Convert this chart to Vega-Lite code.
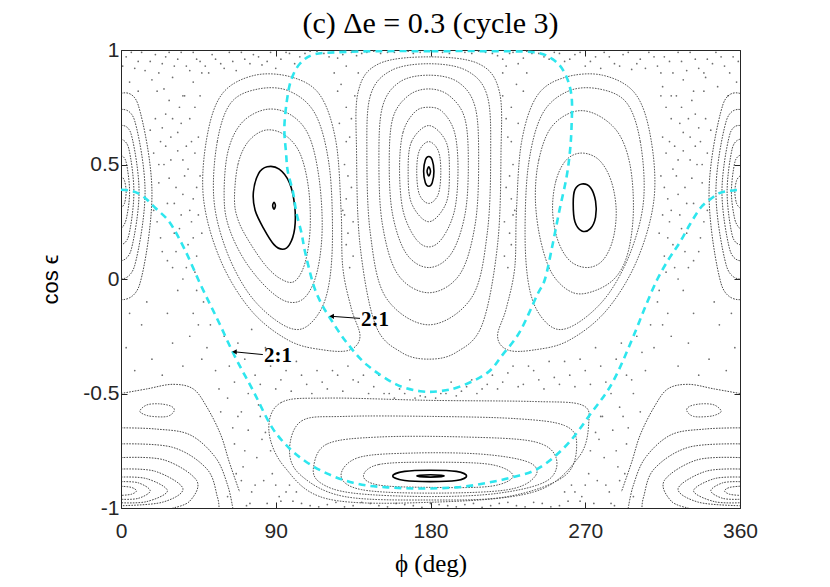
{
"$schema":"https://vega.github.io/schema/vega-lite/v6.json",
"autosize":"none",
"width":619,"height":458,
"padding":{"left":121,"top":50,"right":90,"bottom":79},
"background":"white",
"title":{"text":"(c) Δe = 0.3 (cycle 3)","font":"Liberation Serif","fontSize":30,"fontWeight":"normal","color":"black","offset":0},
"config":{"view":{"stroke":"#262626","strokeWidth":1},"axis":{"grid":false,"domainColor":"#262626","tickColor":"#262626","labelColor":"#262626","labelFont":"Liberation Sans","labelFontSize":21,"titleColor":"black","labelFlush":false}},
"datasets":{
"sea":[
{"phi":3,"ce":0.97},{"phi":8,"ce":0.92},{"phi":12,"ce":0.99},{"phi":17,"ce":0.95},{"phi":22,"ce":0.9},{"phi":26,"ce":0.97},{"phi":31,"ce":0.93},{"phi":35,"ce":0.99},{"phi":40,"ce":0.91},{"phi":44,"ce":0.96},{"phi":49,"ce":0.93},{"phi":53,"ce":0.98},{"phi":58,"ce":0.94},{"phi":63,"ce":0.99},{"phi":67,"ce":0.91},{"phi":72,"ce":0.96},{"phi":77,"ce":0.98},{"phi":82,"ce":0.935},{"phi":87,"ce":0.99},{"phi":93,"ce":0.96},{"phi":98,"ce":0.985},{"phi":104,"ce":0.97},{"phi":110,"ce":0.995},{"phi":118,"ce":0.985},{"phi":126,"ce":0.965},{"phi":131,"ce":0.93},{"phi":134,"ce":0.99},{"phi":140,"ce":0.985},{"phi":147,"ce":0.995},{"phi":155,"ce":0.99},{"phi":163,"ce":0.997},{"phi":170,"ce":0.985},{"phi":187,"ce":0.99},{"phi":196,"ce":0.997},{"phi":204,"ce":0.985},{"phi":212,"ce":0.99},{"phi":219,"ce":0.975},{"phi":224,"ce":0.93},{"phi":228,"ce":0.99},{"phi":234,"ce":0.965},{"phi":239,"ce":0.985},{"phi":246,"ce":0.97},{"phi":252,"ce":0.99},{"phi":258,"ce":0.95},{"phi":264,"ce":0.98},{"phi":270,"ce":0.93},{"phi":276,"ce":0.97},{"phi":281,"ce":0.99},{"phi":287,"ce":0.94},{"phi":292,"ce":0.98},{"phi":297,"ce":0.915},{"phi":302,"ce":0.96},{"phi":307,"ce":0.99},{"phi":312,"ce":0.93},{"phi":316,"ce":0.97},{"phi":321,"ce":0.9},{"phi":326,"ce":0.95},{"phi":331,"ce":0.99},{"phi":336,"ce":0.92},{"phi":341,"ce":0.96},{"phi":346,"ce":0.99},{"phi":351,"ce":0.93},{"phi":356,"ce":0.97},
{"phi":1,"ce":0.93},{"phi":6,"ce":0.99},{"phi":10,"ce":0.95},{"phi":14,"ce":0.91},{"phi":20,"ce":0.98},{"phi":24,"ce":0.94},{"phi":28,"ce":0.99},{"phi":33,"ce":0.96},{"phi":38,"ce":0.93},{"phi":42,"ce":0.99},{"phi":46,"ce":0.95},{"phi":51,"ce":0.9},{"phi":55,"ce":0.96},{"phi":60,"ce":0.92},{"phi":65,"ce":0.95},{"phi":70,"ce":0.99},{"phi":75,"ce":0.94},{"phi":80,"ce":0.97},{"phi":85,"ce":0.95},{"phi":90,"ce":0.92},{"phi":96,"ce":0.99},{"phi":101,"ce":0.94},{"phi":107,"ce":0.985},{"phi":114,"ce":0.995},{"phi":121,"ce":0.97},{"phi":129,"ce":0.98},{"phi":137,"ce":0.975},{"phi":143,"ce":0.99},{"phi":151,"ce":0.985},{"phi":159,"ce":0.99},{"phi":167,"ce":0.995},{"phi":174,"ce":0.99},{"phi":183,"ce":0.995},{"phi":191,"ce":0.985},{"phi":200,"ce":0.99},{"phi":208,"ce":0.995},{"phi":216,"ce":0.985},{"phi":222,"ce":0.96},{"phi":226,"ce":0.985},{"phi":231,"ce":0.94},{"phi":236,"ce":0.995},{"phi":243,"ce":0.985},{"phi":249,"ce":0.96},{"phi":255,"ce":0.985},{"phi":261,"ce":0.96},{"phi":267,"ce":0.99},{"phi":273,"ce":0.95},{"phi":279,"ce":0.92},{"phi":284,"ce":0.97},{"phi":290,"ce":0.93},{"phi":295,"ce":0.99},{"phi":300,"ce":0.94},{"phi":305,"ce":0.92},{"phi":310,"ce":0.97},{"phi":314,"ce":0.9},{"phi":319,"ce":0.95},{"phi":324,"ce":0.99},{"phi":329,"ce":0.91},{"phi":334,"ce":0.96},{"phi":339,"ce":0.9},{"phi":344,"ce":0.94},{"phi":349,"ce":0.97},{"phi":354,"ce":0.9},{"phi":359,"ce":0.95},
{"phi":5,"ce":0.86},{"phi":10,"ce":0.82},{"phi":18,"ce":0.87},{"phi":25,"ce":0.83},{"phi":30,"ce":0.88},{"phi":36,"ce":0.8},{"phi":42,"ce":0.86},{"phi":47,"ce":0.9},{"phi":315,"ce":0.84},{"phi":320,"ce":0.8},{"phi":327,"ce":0.87},{"phi":333,"ce":0.82},{"phi":340,"ce":0.88},{"phi":347,"ce":0.84},{"phi":353,"ce":0.8},{"phi":358,"ce":0.86},
{"phi":20,"ce":0.7},{"phi":23,"ce":0.6},{"phi":26,"ce":0.72},{"phi":29,"ce":0.52},{"phi":33,"ce":0.64},{"phi":37,"ce":0.45},{"phi":40,"ce":0.7},{"phi":43,"ce":0.55},{"phi":22,"ce":0.42},{"phi":27,"ce":0.33},{"phi":31,"ce":0.2},{"phi":35,"ce":0.28},{"phi":39,"ce":0.15},{"phi":42,"ce":0.35},{"phi":24,"ce":0.12},{"phi":30,"ce":0.05},{"phi":36,"ce":0.0},{"phi":44,"ce":0.1},{"phi":28,"ce":0.78},{"phi":34,"ce":0.75},{"phi":38,"ce":0.58},{"phi":41,"ce":0.25},{"phi":25,"ce":0.5},{"phi":32,"ce":0.4},{"phi":46,"ce":0.45},{"phi":21,"ce":0.25},{"phi":19,"ce":0.55},{"phi":45,"ce":0.62},
{"phi":17,"ce":0.65},{"phi":19,"ce":0.3},{"phi":21,"ce":0.82},{"phi":23,"ce":0.18},{"phi":24,"ce":0.66},{"phi":26,"ce":0.58},{"phi":27,"ce":0.08},{"phi":28,"ce":0.44},{"phi":30,"ce":0.7},{"phi":31,"ce":0.33},{"phi":32,"ce":0.12},{"phi":33,"ce":0.56},{"phi":34,"ce":0.22},{"phi":35,"ce":0.68},{"phi":36,"ce":0.37},{"phi":37,"ce":0.8},{"phi":38,"ce":0.05},{"phi":39,"ce":0.48},{"phi":40,"ce":0.3},{"phi":41,"ce":0.6},{"phi":42,"ce":0.18},{"phi":43,"ce":0.75},{"phi":44,"ce":0.4},{"phi":45,"ce":0.28},{"phi":46,"ce":0.8},{"phi":47,"ce":0.2},{"phi":22,"ce":0.5},{"phi":29,"ce":0.62},{"phi":36,"ce":0.52},{"phi":43,"ce":0.03},
{"phi":340,"ce":0.7},{"phi":337,"ce":0.6},{"phi":334,"ce":0.72},{"phi":331,"ce":0.52},{"phi":327,"ce":0.64},{"phi":323,"ce":0.45},{"phi":320,"ce":0.7},{"phi":317,"ce":0.55},{"phi":338,"ce":0.42},{"phi":333,"ce":0.33},{"phi":329,"ce":0.2},{"phi":325,"ce":0.28},{"phi":321,"ce":0.15},{"phi":318,"ce":0.35},{"phi":336,"ce":0.12},{"phi":330,"ce":0.05},{"phi":324,"ce":0.0},{"phi":316,"ce":0.1},{"phi":332,"ce":0.78},{"phi":326,"ce":0.75},{"phi":322,"ce":0.58},{"phi":319,"ce":0.25},{"phi":335,"ce":0.5},{"phi":328,"ce":0.4},{"phi":314,"ce":0.45},{"phi":339,"ce":0.25},{"phi":341,"ce":0.55},{"phi":315,"ce":0.62},
{"phi":343,"ce":0.65},{"phi":341,"ce":0.3},{"phi":339,"ce":0.82},{"phi":337,"ce":0.18},{"phi":336,"ce":0.66},{"phi":334,"ce":0.58},{"phi":333,"ce":0.08},{"phi":332,"ce":0.44},{"phi":330,"ce":0.7},{"phi":329,"ce":0.33},{"phi":328,"ce":0.12},{"phi":327,"ce":0.56},{"phi":326,"ce":0.22},{"phi":325,"ce":0.68},{"phi":324,"ce":0.37},{"phi":323,"ce":0.8},{"phi":322,"ce":0.05},{"phi":321,"ce":0.48},{"phi":320,"ce":0.3},{"phi":319,"ce":0.6},{"phi":318,"ce":0.18},{"phi":317,"ce":0.75},{"phi":316,"ce":0.4},{"phi":315,"ce":0.28},{"phi":314,"ce":0.8},{"phi":313,"ce":0.2},{"phi":338,"ce":0.5},{"phi":331,"ce":0.62},{"phi":324,"ce":0.52},{"phi":317,"ce":0.03},
{"phi":128,"ce":0.85},{"phi":131,"ce":0.75},{"phi":133,"ce":0.62},{"phi":130,"ce":0.5},{"phi":134,"ce":0.4},{"phi":129,"ce":0.3},{"phi":132,"ce":0.2},{"phi":135,"ce":0.1},{"phi":127,"ce":0.68},{"phi":136,"ce":0.8},{"phi":131,"ce":0.35},{"phi":133,"ce":0.05},
{"phi":124,"ce":0.9},{"phi":130,"ce":0.28},{"phi":131,"ce":0.6},{"phi":132,"ce":0.45},{"phi":134,"ce":0.7},{"phi":135,"ce":0.25},{"phi":138,"ce":0.9},{"phi":131,"ce":0.15},{"phi":126,"ce":0.82},
{"phi":230,"ce":0.85},{"phi":227,"ce":0.75},{"phi":225,"ce":0.62},{"phi":228,"ce":0.5},{"phi":224,"ce":0.4},{"phi":229,"ce":0.3},{"phi":226,"ce":0.2},{"phi":223,"ce":0.1},{"phi":231,"ce":0.68},{"phi":222,"ce":0.8},{"phi":227,"ce":0.35},{"phi":225,"ce":0.05},
{"phi":236,"ce":0.9},{"phi":228,"ce":0.28},{"phi":227,"ce":0.6},{"phi":226,"ce":0.45},{"phi":224,"ce":0.7},{"phi":223,"ce":0.25},{"phi":222,"ce":0.9},{"phi":227,"ce":0.15},{"phi":234,"ce":0.82},
{"phi":45,"ce":-0.2},{"phi":50,"ce":-0.3},{"phi":55,"ce":-0.4},{"phi":60,"ce":-0.25},{"phi":66,"ce":-0.45},{"phi":72,"ce":-0.35},{"phi":78,"ce":-0.42},{"phi":84,"ce":-0.3},{"phi":90,"ce":-0.48},{"phi":96,"ce":-0.4},{"phi":102,"ce":-0.36},{"phi":108,"ce":-0.46},{"phi":114,"ce":-0.4},{"phi":120,"ce":-0.48},{"phi":126,"ce":-0.42},{"phi":132,"ce":-0.38},{"phi":138,"ce":-0.45},{"phi":144,"ce":-0.5},{"phi":150,"ce":-0.42},{"phi":156,"ce":-0.5},{"phi":162,"ce":-0.48},{"phi":168,"ce":-0.44},{"phi":174,"ce":-0.51},{"phi":186,"ce":-0.5},{"phi":192,"ce":-0.45},{"phi":198,"ce":-0.49},{"phi":204,"ce":-0.44},{"phi":210,"ce":-0.48},{"phi":216,"ce":-0.42},{"phi":222,"ce":-0.45},{"phi":228,"ce":-0.38},{"phi":234,"ce":-0.46},{"phi":240,"ce":-0.4},{"phi":246,"ce":-0.48},{"phi":252,"ce":-0.43},{"phi":258,"ce":-0.36},{"phi":264,"ce":-0.47},{"phi":270,"ce":-0.4},{"phi":276,"ce":-0.3},{"phi":282,"ce":-0.45},{"phi":288,"ce":-0.35},{"phi":294,"ce":-0.42},{"phi":300,"ce":-0.25},{"phi":305,"ce":-0.4},{"phi":310,"ce":-0.3},{"phi":315,"ce":-0.2},{"phi":48,"ce":-0.1},{"phi":312,"ce":-0.1},{"phi":62,"ce":-0.52},{"phi":70,"ce":-0.58},{"phi":80,"ce":-0.55},{"phi":290,"ce":-0.56},{"phi":280,"ce":-0.6},{"phi":298,"ce":-0.5},
{"phi":42,"ce":-0.15},{"phi":47,"ce":-0.35},{"phi":52,"ce":-0.2},{"phi":57,"ce":-0.48},{"phi":63,"ce":-0.38},{"phi":68,"ce":-0.28},{"phi":74,"ce":-0.5},{"phi":76,"ce":-0.22},{"phi":81,"ce":-0.46},{"phi":87,"ce":-0.38},{"phi":93,"ce":-0.44},{"phi":99,"ce":-0.49},{"phi":105,"ce":-0.42},{"phi":111,"ce":-0.5},{"phi":117,"ce":-0.45},{"phi":123,"ce":-0.4},{"phi":129,"ce":-0.49},{"phi":135,"ce":-0.44},{"phi":141,"ce":-0.42},{"phi":147,"ce":-0.47},{"phi":153,"ce":-0.5},{"phi":159,"ce":-0.52},{"phi":165,"ce":-0.5},{"phi":171,"ce":-0.52},{"phi":177,"ce":-0.515},{"phi":183,"ce":-0.52},{"phi":189,"ce":-0.5},{"phi":195,"ce":-0.51},{"phi":201,"ce":-0.47},{"phi":207,"ce":-0.5},{"phi":213,"ce":-0.46},{"phi":219,"ce":-0.48},{"phi":225,"ce":-0.41},{"phi":231,"ce":-0.47},{"phi":237,"ce":-0.38},{"phi":243,"ce":-0.44},{"phi":249,"ce":-0.36},{"phi":255,"ce":-0.46},{"phi":261,"ce":-0.42},{"phi":267,"ce":-0.35},{"phi":273,"ce":-0.46},{"phi":279,"ce":-0.38},{"phi":285,"ce":-0.5},{"phi":291,"ce":-0.28},{"phi":297,"ce":-0.44},{"phi":303,"ce":-0.32},{"phi":308,"ce":-0.2},{"phi":313,"ce":-0.05},{"phi":318,"ce":-0.15},{"phi":44,"ce":-0.05},
{"phi":3,"ce":-0.3},{"phi":8,"ce":-0.4},{"phi":12,"ce":-0.2},{"phi":18,"ce":-0.35},{"phi":24,"ce":-0.42},{"phi":30,"ce":-0.28},{"phi":36,"ce":-0.38},{"phi":40,"ce":-0.25},{"phi":5,"ce":-0.15},{"phi":15,"ce":-0.1},{"phi":27,"ce":-0.15},{"phi":33,"ce":-0.05},
{"phi":357,"ce":-0.3},{"phi":352,"ce":-0.4},{"phi":348,"ce":-0.2},{"phi":342,"ce":-0.35},{"phi":336,"ce":-0.42},{"phi":330,"ce":-0.28},{"phi":324,"ce":-0.38},{"phi":320,"ce":-0.25},{"phi":355,"ce":-0.15},{"phi":345,"ce":-0.1},{"phi":333,"ce":-0.15},{"phi":327,"ce":-0.05},
{"phi":65,"ce":-0.65},{"phi":72,"ce":-0.75},{"phi":78,"ce":-0.9},{"phi":82,"ce":-0.7},{"phi":88,"ce":-0.85},{"phi":92,"ce":-0.95},{"phi":98,"ce":-0.9},{"phi":75,"ce":-0.98},{"phi":70,"ce":-0.88},
{"phi":58,"ce":-0.58},{"phi":62,"ce":-0.95},{"phi":66,"ce":-0.72},{"phi":68,"ce":-0.6},{"phi":71,"ce":-0.82},{"phi":74,"ce":-0.66},{"phi":76,"ce":-0.93},{"phi":79,"ce":-0.78},{"phi":81,"ce":-0.6},{"phi":83,"ce":-0.88},{"phi":85,"ce":-0.98},{"phi":87,"ce":-0.75},{"phi":90,"ce":-0.9},{"phi":93,"ce":-0.97},{"phi":96,"ce":-0.93},{"phi":100,"ce":-0.97},{"phi":102,"ce":-0.93},{"phi":84,"ce":-0.67},{"phi":73,"ce":-0.99},{"phi":67,"ce":-0.85},
{"phi":295,"ce":-0.65},{"phi":288,"ce":-0.75},{"phi":282,"ce":-0.9},{"phi":278,"ce":-0.7},{"phi":272,"ce":-0.85},{"phi":268,"ce":-0.95},{"phi":262,"ce":-0.9},{"phi":285,"ce":-0.98},{"phi":290,"ce":-0.88},
{"phi":302,"ce":-0.58},{"phi":298,"ce":-0.95},{"phi":294,"ce":-0.72},{"phi":292,"ce":-0.6},{"phi":289,"ce":-0.82},{"phi":286,"ce":-0.66},{"phi":284,"ce":-0.93},{"phi":281,"ce":-0.78},{"phi":279,"ce":-0.6},{"phi":277,"ce":-0.88},{"phi":275,"ce":-0.98},{"phi":273,"ce":-0.75},{"phi":270,"ce":-0.9},{"phi":267,"ce":-0.97},{"phi":264,"ce":-0.93},{"phi":260,"ce":-0.97},{"phi":258,"ce":-0.93},{"phi":276,"ce":-0.67},{"phi":287,"ce":-0.99},{"phi":293,"ce":-0.85},
{"phi":105,"ce":-0.98},{"phi":115,"ce":-0.995},{"phi":125,"ce":-0.975},{"phi":135,"ce":-0.99},{"phi":145,"ce":-0.98},{"phi":155,"ce":-0.995},{"phi":165,"ce":-0.985},{"phi":175,"ce":-0.997},{"phi":185,"ce":-0.985},{"phi":195,"ce":-0.995},{"phi":205,"ce":-0.98},{"phi":215,"ce":-0.99},{"phi":225,"ce":-0.975},{"phi":235,"ce":-0.995},{"phi":245,"ce":-0.98},{"phi":255,"ce":-0.99},
{"phi":110,"ce":-0.99},{"phi":120,"ce":-0.985},{"phi":130,"ce":-0.995},{"phi":140,"ce":-0.975},{"phi":150,"ce":-0.99},{"phi":160,"ce":-0.98},{"phi":170,"ce":-0.99},{"phi":180,"ce":-0.98},{"phi":190,"ce":-0.99},{"phi":200,"ce":-0.985},{"phi":210,"ce":-0.997},{"phi":220,"ce":-0.98},{"phi":230,"ce":-0.99},{"phi":240,"ce":-0.975},{"phi":250,"ce":-0.995}
],
"loops":[
{"id":"LI2","k":1,"phi":66,"ce":0.35},{"id":"LI2","k":2,"phi":68,"ce":0.5},{"id":"LI2","k":3,"phi":74,"ce":0.6},{"id":"LI2","k":4,"phi":84,"ce":0.65},{"id":"LI2","k":5,"phi":95,"ce":0.63},{"id":"LI2","k":6,"phi":104,"ce":0.55},{"id":"LI2","k":7,"phi":109,"ce":0.4},{"id":"LI2","k":8,"phi":110,"ce":0.22},{"id":"LI2","k":9,"phi":107,"ce":0.07},{"id":"LI2","k":10,"phi":101,"ce":-0.01},{"id":"LI2","k":11,"phi":93,"ce":0.0},{"id":"LI2","k":12,"phi":84,"ce":0.06},{"id":"LI2","k":13,"phi":74,"ce":0.17},{"id":"LI2","k":14,"phi":68,"ce":0.26},
{"id":"LI3","k":1,"phi":60,"ce":0.35},{"id":"LI3","k":2,"phi":62,"ce":0.55},{"id":"LI3","k":3,"phi":70,"ce":0.68},{"id":"LI3","k":4,"phi":84,"ce":0.74},{"id":"LI3","k":5,"phi":98,"ce":0.72},{"id":"LI3","k":6,"phi":109,"ce":0.63},{"id":"LI3","k":7,"phi":115,"ce":0.45},{"id":"LI3","k":8,"phi":117,"ce":0.22},{"id":"LI3","k":9,"phi":114,"ce":0.03},{"id":"LI3","k":10,"phi":107,"ce":-0.08},{"id":"LI3","k":11,"phi":97,"ce":-0.1},{"id":"LI3","k":12,"phi":85,"ce":-0.04},{"id":"LI3","k":13,"phi":72,"ce":0.08},{"id":"LI3","k":14,"phi":63,"ce":0.22},
{"id":"LI4","k":1,"phi":54,"ce":0.35},{"id":"LI4","k":2,"phi":56,"ce":0.6},{"id":"LI4","k":3,"phi":64,"ce":0.77},{"id":"LI4","k":4,"phi":80,"ce":0.83},{"id":"LI4","k":5,"phi":98,"ce":0.82},{"id":"LI4","k":6,"phi":113,"ce":0.72},{"id":"LI4","k":7,"phi":121,"ce":0.5},{"id":"LI4","k":8,"phi":123,"ce":0.2},{"id":"LI4","k":9,"phi":121,"ce":-0.02},{"id":"LI4","k":10,"phi":115,"ce":-0.15},{"id":"LI4","k":11,"phi":104,"ce":-0.22},{"id":"LI4","k":12,"phi":90,"ce":-0.18},{"id":"LI4","k":13,"phi":74,"ce":-0.06},{"id":"LI4","k":14,"phi":61,"ce":0.13},
{"id":"LI5","k":1,"phi":48,"ce":0.35},{"id":"LI5","k":2,"phi":50,"ce":0.62},{"id":"LI5","k":3,"phi":59,"ce":0.81},{"id":"LI5","k":4,"phi":78,"ce":0.89},{"id":"LI5","k":5,"phi":100,"ce":0.88},{"id":"LI5","k":6,"phi":116,"ce":0.8},{"id":"LI5","k":7,"phi":125,"ce":0.6},{"id":"LI5","k":8,"phi":128,"ce":0.3},{"id":"LI5","k":9,"phi":129,"ce":0.05},{"id":"LI5","k":10,"phi":134,"ce":-0.13},{"id":"LI5","k":11,"phi":139,"ce":-0.25},{"id":"LI5","k":12,"phi":133,"ce":-0.31},{"id":"LI5","k":13,"phi":118,"ce":-0.31},{"id":"LI5","k":14,"phi":98,"ce":-0.27},{"id":"LI5","k":15,"phi":76,"ce":-0.14},{"id":"LI5","k":16,"phi":58,"ce":0.08},
{"id":"RI2","k":1,"phi":251,"ce":0.3},{"id":"RI2","k":2,"phi":253,"ce":0.43},{"id":"RI2","k":3,"phi":259,"ce":0.52},{"id":"RI2","k":4,"phi":268,"ce":0.55},{"id":"RI2","k":5,"phi":278,"ce":0.52},{"id":"RI2","k":6,"phi":285,"ce":0.43},{"id":"RI2","k":7,"phi":288,"ce":0.3},{"id":"RI2","k":8,"phi":286,"ce":0.17},{"id":"RI2","k":9,"phi":280,"ce":0.08},{"id":"RI2","k":10,"phi":271,"ce":0.05},{"id":"RI2","k":11,"phi":261,"ce":0.08},{"id":"RI2","k":12,"phi":254,"ce":0.17},
{"id":"RI3","k":1,"phi":241,"ce":0.35},{"id":"RI3","k":2,"phi":243,"ce":0.52},{"id":"RI3","k":3,"phi":250,"ce":0.66},{"id":"RI3","k":4,"phi":263,"ce":0.73},{"id":"RI3","k":5,"phi":276,"ce":0.72},{"id":"RI3","k":6,"phi":289,"ce":0.64},{"id":"RI3","k":7,"phi":296,"ce":0.5},{"id":"RI3","k":8,"phi":298,"ce":0.3},{"id":"RI3","k":9,"phi":295,"ce":0.12},{"id":"RI3","k":10,"phi":288,"ce":0.01},{"id":"RI3","k":11,"phi":276,"ce":-0.05},{"id":"RI3","k":12,"phi":263,"ce":-0.06},{"id":"RI3","k":13,"phi":251,"ce":0.02},{"id":"RI3","k":14,"phi":244,"ce":0.17},
{"id":"RI4","k":1,"phi":304,"ce":0.35},{"id":"RI4","k":2,"phi":302,"ce":0.6},{"id":"RI4","k":3,"phi":294,"ce":0.77},{"id":"RI4","k":4,"phi":278,"ce":0.83},{"id":"RI4","k":5,"phi":260,"ce":0.82},{"id":"RI4","k":6,"phi":245,"ce":0.72},{"id":"RI4","k":7,"phi":237,"ce":0.5},{"id":"RI4","k":8,"phi":235,"ce":0.2},{"id":"RI4","k":9,"phi":237,"ce":-0.02},{"id":"RI4","k":10,"phi":243,"ce":-0.15},{"id":"RI4","k":11,"phi":254,"ce":-0.22},{"id":"RI4","k":12,"phi":268,"ce":-0.18},{"id":"RI4","k":13,"phi":284,"ce":-0.06},{"id":"RI4","k":14,"phi":297,"ce":0.13},
{"id":"RI5","k":1,"phi":310,"ce":0.35},{"id":"RI5","k":2,"phi":308,"ce":0.62},{"id":"RI5","k":3,"phi":299,"ce":0.81},{"id":"RI5","k":4,"phi":280,"ce":0.89},{"id":"RI5","k":5,"phi":258,"ce":0.88},{"id":"RI5","k":6,"phi":242,"ce":0.8},{"id":"RI5","k":7,"phi":233,"ce":0.6},{"id":"RI5","k":8,"phi":230,"ce":0.3},{"id":"RI5","k":9,"phi":229,"ce":0.05},{"id":"RI5","k":10,"phi":224,"ce":-0.13},{"id":"RI5","k":11,"phi":219,"ce":-0.25},{"id":"RI5","k":12,"phi":225,"ce":-0.31},{"id":"RI5","k":13,"phi":240,"ce":-0.31},{"id":"RI5","k":14,"phi":260,"ce":-0.27},{"id":"RI5","k":15,"phi":282,"ce":-0.14},{"id":"RI5","k":16,"phi":300,"ce":0.08},
{"id":"CI2","k":1,"phi":172,"ce":0.47},{"id":"CI2","k":2,"phi":173.5,"ce":0.56},{"id":"CI2","k":3,"phi":179,"ce":0.6},{"id":"CI2","k":4,"phi":184.5,"ce":0.56},{"id":"CI2","k":5,"phi":186,"ce":0.47},{"id":"CI2","k":6,"phi":184.5,"ce":0.37},{"id":"CI2","k":7,"phi":179,"ce":0.33},{"id":"CI2","k":8,"phi":173.5,"ce":0.37},
{"id":"CI3","k":1,"phi":167,"ce":0.47},{"id":"CI3","k":2,"phi":169,"ce":0.6},{"id":"CI3","k":3,"phi":179,"ce":0.67},{"id":"CI3","k":4,"phi":189,"ce":0.6},{"id":"CI3","k":5,"phi":191,"ce":0.47},{"id":"CI3","k":6,"phi":189,"ce":0.33},{"id":"CI3","k":7,"phi":179,"ce":0.25},{"id":"CI3","k":8,"phi":169,"ce":0.33},
{"id":"CI4","k":1,"phi":162,"ce":0.48},{"id":"CI4","k":2,"phi":164,"ce":0.64},{"id":"CI4","k":3,"phi":171,"ce":0.73},{"id":"CI4","k":4,"phi":179,"ce":0.75},{"id":"CI4","k":5,"phi":187,"ce":0.73},{"id":"CI4","k":6,"phi":194,"ce":0.64},{"id":"CI4","k":7,"phi":196,"ce":0.48},{"id":"CI4","k":8,"phi":194,"ce":0.3},{"id":"CI4","k":9,"phi":187,"ce":0.18},{"id":"CI4","k":10,"phi":179,"ce":0.14},{"id":"CI4","k":11,"phi":171,"ce":0.18},{"id":"CI4","k":12,"phi":164,"ce":0.3},
{"id":"CI5","k":1,"phi":156,"ce":0.5},{"id":"CI5","k":2,"phi":158,"ce":0.7},{"id":"CI5","k":3,"phi":167,"ce":0.8},{"id":"CI5","k":4,"phi":179,"ce":0.83},{"id":"CI5","k":5,"phi":191,"ce":0.8},{"id":"CI5","k":6,"phi":200,"ce":0.7},{"id":"CI5","k":7,"phi":202,"ce":0.5},{"id":"CI5","k":8,"phi":200,"ce":0.28},{"id":"CI5","k":9,"phi":192,"ce":0.11},{"id":"CI5","k":10,"phi":179,"ce":0.05},{"id":"CI5","k":11,"phi":166,"ce":0.11},{"id":"CI5","k":12,"phi":158,"ce":0.28},
{"id":"CI6","k":1,"phi":150,"ce":0.52},{"id":"CI6","k":2,"phi":152,"ce":0.75},{"id":"CI6","k":3,"phi":162,"ce":0.86},{"id":"CI6","k":4,"phi":179,"ce":0.89},{"id":"CI6","k":5,"phi":196,"ce":0.86},{"id":"CI6","k":6,"phi":206,"ce":0.75},{"id":"CI6","k":7,"phi":208,"ce":0.52},{"id":"CI6","k":8,"phi":206,"ce":0.24},{"id":"CI6","k":9,"phi":197,"ce":0.02},{"id":"CI6","k":10,"phi":179,"ce":-0.06},{"id":"CI6","k":11,"phi":161,"ce":0.02},{"id":"CI6","k":12,"phi":152,"ce":0.24},
{"id":"CI7","k":1,"phi":143,"ce":0.55},{"id":"CI7","k":2,"phi":145,"ce":0.8},{"id":"CI7","k":3,"phi":157,"ce":0.91},{"id":"CI7","k":4,"phi":179,"ce":0.94},{"id":"CI7","k":5,"phi":201,"ce":0.91},{"id":"CI7","k":6,"phi":213,"ce":0.8},{"id":"CI7","k":7,"phi":215,"ce":0.55},{"id":"CI7","k":8,"phi":213,"ce":0.2},{"id":"CI7","k":9,"phi":204,"ce":-0.08},{"id":"CI7","k":10,"phi":179,"ce":-0.2},{"id":"CI7","k":11,"phi":154,"ce":-0.08},{"id":"CI7","k":12,"phi":145,"ce":0.2},
{"id":"CI8","k":1,"phi":137,"ce":0.55},{"id":"CI8","k":2,"phi":138,"ce":0.82},{"id":"CI8","k":3,"phi":150,"ce":0.94},{"id":"CI8","k":4,"phi":179,"ce":0.97},{"id":"CI8","k":5,"phi":208,"ce":0.94},{"id":"CI8","k":6,"phi":220,"ce":0.82},{"id":"CI8","k":7,"phi":221,"ce":0.55},{"id":"CI8","k":8,"phi":219,"ce":0.15},{"id":"CI8","k":9,"phi":210,"ce":-0.2},{"id":"CI8","k":10,"phi":195,"ce":-0.32},{"id":"CI8","k":11,"phi":179,"ce":-0.35},{"id":"CI8","k":12,"phi":163,"ce":-0.32},{"id":"CI8","k":13,"phi":148,"ce":-0.2},{"id":"CI8","k":14,"phi":139,"ce":0.15},
{"id":"B2","k":1,"phi":141,"ce":-0.86},{"id":"B2","k":2,"phi":150,"ce":-0.81},{"id":"B2","k":3,"phi":180,"ce":-0.8},{"id":"B2","k":4,"phi":215,"ce":-0.81},{"id":"B2","k":5,"phi":228,"ce":-0.86},{"id":"B2","k":6,"phi":215,"ce":-0.905},{"id":"B2","k":7,"phi":180,"ce":-0.91},{"id":"B2","k":8,"phi":150,"ce":-0.9},
{"id":"B3","k":1,"phi":128,"ce":-0.86},{"id":"B3","k":2,"phi":138,"ce":-0.78},{"id":"B3","k":3,"phi":170,"ce":-0.76},{"id":"B3","k":4,"phi":210,"ce":-0.765},{"id":"B3","k":5,"phi":237,"ce":-0.8},{"id":"B3","k":6,"phi":241,"ce":-0.86},{"id":"B3","k":7,"phi":225,"ce":-0.92},{"id":"B3","k":8,"phi":180,"ce":-0.935},{"id":"B3","k":9,"phi":140,"ce":-0.92},
{"id":"B4","k":1,"phi":112,"ce":-0.82},{"id":"B4","k":2,"phi":120,"ce":-0.72},{"id":"B4","k":3,"phi":150,"ce":-0.69},{"id":"B4","k":4,"phi":200,"ce":-0.69},{"id":"B4","k":5,"phi":240,"ce":-0.71},{"id":"B4","k":6,"phi":253,"ce":-0.78},{"id":"B4","k":7,"phi":248,"ce":-0.88},{"id":"B4","k":8,"phi":220,"ce":-0.935},{"id":"B4","k":9,"phi":180,"ce":-0.95},{"id":"B4","k":10,"phi":135,"ce":-0.935},{"id":"B4","k":11,"phi":116,"ce":-0.89},
{"id":"B5","k":1,"phi":98,"ce":-0.75},{"id":"B5","k":2,"phi":105,"ce":-0.62},{"id":"B5","k":3,"phi":130,"ce":-0.6},{"id":"B5","k":4,"phi":180,"ce":-0.6},{"id":"B5","k":5,"phi":230,"ce":-0.61},{"id":"B5","k":6,"phi":258,"ce":-0.64},{"id":"B5","k":7,"phi":265,"ce":-0.72},{"id":"B5","k":8,"phi":258,"ce":-0.86},{"id":"B5","k":9,"phi":225,"ce":-0.95},{"id":"B5","k":10,"phi":180,"ce":-0.965},{"id":"B5","k":11,"phi":130,"ce":-0.95},{"id":"B5","k":12,"phi":105,"ce":-0.86},
{"id":"B6","k":1,"phi":86,"ce":-0.66},{"id":"B6","k":2,"phi":93,"ce":-0.54},{"id":"B6","k":3,"phi":120,"ce":-0.52},{"id":"B6","k":4,"phi":180,"ce":-0.53},{"id":"B6","k":5,"phi":240,"ce":-0.535},{"id":"B6","k":6,"phi":268,"ce":-0.55},{"id":"B6","k":7,"phi":272,"ce":-0.63},{"id":"B6","k":8,"phi":266,"ce":-0.78},{"id":"B6","k":9,"phi":240,"ce":-0.93},{"id":"B6","k":10,"phi":180,"ce":-0.975},{"id":"B6","k":11,"phi":120,"ce":-0.96},{"id":"B6","k":12,"phi":95,"ce":-0.82},
{"id":"SL","k":1,"phi":11,"ce":-0.575},{"id":"SL","k":2,"phi":15,"ce":-0.55},{"id":"SL","k":3,"phi":22,"ce":-0.545},{"id":"SL","k":4,"phi":29,"ce":-0.555},{"id":"SL","k":5,"phi":31,"ce":-0.575},{"id":"SL","k":6,"phi":27,"ce":-0.6},{"id":"SL","k":7,"phi":18,"ce":-0.6},{"id":"SL","k":8,"phi":13,"ce":-0.59},
{"id":"SR","k":1,"phi":349,"ce":-0.575},{"id":"SR","k":2,"phi":345,"ce":-0.55},{"id":"SR","k":3,"phi":338,"ce":-0.545},{"id":"SR","k":4,"phi":331,"ce":-0.555},{"id":"SR","k":5,"phi":329,"ce":-0.575},{"id":"SR","k":6,"phi":333,"ce":-0.6},{"id":"SR","k":7,"phi":342,"ce":-0.6},{"id":"SR","k":8,"phi":347,"ce":-0.59}
],
"thick":[
{"id":"LI1","k":1,"phi":77,"ce":0.38},{"id":"LI1","k":2,"phi":80,"ce":0.46},{"id":"LI1","k":3,"phi":85,"ce":0.49},{"id":"LI1","k":4,"phi":92,"ce":0.48},{"id":"LI1","k":5,"phi":98,"ce":0.42},{"id":"LI1","k":6,"phi":101,"ce":0.32},{"id":"LI1","k":7,"phi":101,"ce":0.22},{"id":"LI1","k":8,"phi":98,"ce":0.15},{"id":"LI1","k":9,"phi":94,"ce":0.13},{"id":"LI1","k":10,"phi":89,"ce":0.15},{"id":"LI1","k":11,"phi":83,"ce":0.22},{"id":"LI1","k":12,"phi":78,"ce":0.3},
{"id":"LI0","k":1,"phi":88.2,"ce":0.32},{"id":"LI0","k":2,"phi":89,"ce":0.335},{"id":"LI0","k":3,"phi":89.8,"ce":0.32},{"id":"LI0","k":4,"phi":89,"ce":0.305},
{"id":"RI1","k":1,"phi":263,"ce":0.33},{"id":"RI1","k":2,"phi":264,"ce":0.39},{"id":"RI1","k":3,"phi":268,"ce":0.415},{"id":"RI1","k":4,"phi":273,"ce":0.4},{"id":"RI1","k":5,"phi":276,"ce":0.34},{"id":"RI1","k":6,"phi":276,"ce":0.27},{"id":"RI1","k":7,"phi":273,"ce":0.22},{"id":"RI1","k":8,"phi":268,"ce":0.21},{"id":"RI1","k":9,"phi":264,"ce":0.25},
{"id":"CI1","k":1,"phi":176,"ce":0.47},{"id":"CI1","k":2,"phi":177,"ce":0.52},{"id":"CI1","k":3,"phi":179,"ce":0.535},{"id":"CI1","k":4,"phi":181,"ce":0.52},{"id":"CI1","k":5,"phi":182,"ce":0.47},{"id":"CI1","k":6,"phi":181,"ce":0.42},{"id":"CI1","k":7,"phi":179,"ce":0.405},{"id":"CI1","k":8,"phi":177,"ce":0.42},
{"id":"CI0","k":1,"phi":178,"ce":0.47},{"id":"CI0","k":2,"phi":179,"ce":0.49},{"id":"CI0","k":3,"phi":180,"ce":0.47},{"id":"CI0","k":4,"phi":179,"ce":0.45},
{"id":"B1","k":1,"phi":158,"ce":-0.86},{"id":"B1","k":2,"phi":165,"ce":-0.84},{"id":"B1","k":3,"phi":180,"ce":-0.835},{"id":"B1","k":4,"phi":195,"ce":-0.84},{"id":"B1","k":5,"phi":201,"ce":-0.86},{"id":"B1","k":6,"phi":195,"ce":-0.88},{"id":"B1","k":7,"phi":180,"ce":-0.885},{"id":"B1","k":8,"phi":165,"ce":-0.88},
{"id":"B0","k":1,"phi":172,"ce":-0.86},{"id":"B0","k":2,"phi":180,"ce":-0.855},{"id":"B0","k":3,"phi":188,"ce":-0.86},{"id":"B0","k":4,"phi":180,"ce":-0.865}
],
"arcs":[
{"id":"UL1","k":1,"phi":0,"ce":0.45},{"id":"UL1","k":2,"phi":2,"ce":0.43},{"id":"UL1","k":3,"phi":3,"ce":0.38},{"id":"UL1","k":4,"phi":2,"ce":0.33},{"id":"UL1","k":5,"phi":0,"ce":0.31},
{"id":"UL2","k":1,"phi":0,"ce":0.54},{"id":"UL2","k":2,"phi":3,"ce":0.51},{"id":"UL2","k":3,"phi":5,"ce":0.38},{"id":"UL2","k":4,"phi":3,"ce":0.26},{"id":"UL2","k":5,"phi":0,"ce":0.22},
{"id":"UL3","k":1,"phi":0,"ce":0.61},{"id":"UL3","k":2,"phi":4.5,"ce":0.57},{"id":"UL3","k":3,"phi":7.5,"ce":0.38},{"id":"UL3","k":4,"phi":4.5,"ce":0.19},{"id":"UL3","k":5,"phi":0,"ce":0.15},
{"id":"UL4","k":1,"phi":0,"ce":0.67},{"id":"UL4","k":2,"phi":6,"ce":0.63},{"id":"UL4","k":3,"phi":10.5,"ce":0.38},{"id":"UL4","k":4,"phi":6,"ce":0.13},{"id":"UL4","k":5,"phi":0,"ce":0.08},
{"id":"UL5","k":1,"phi":0,"ce":0.74},{"id":"UL5","k":2,"phi":8,"ce":0.69},{"id":"UL5","k":3,"phi":14,"ce":0.38},{"id":"UL5","k":4,"phi":8,"ce":0.06},{"id":"UL5","k":5,"phi":0,"ce":0.0},
{"id":"UL6","k":1,"phi":0,"ce":0.81},{"id":"UL6","k":2,"phi":10,"ce":0.76},{"id":"UL6","k":3,"phi":18,"ce":0.38},{"id":"UL6","k":4,"phi":11,"ce":-0.02},{"id":"UL6","k":5,"phi":0,"ce":-0.09},
{"id":"UR1","k":1,"phi":360,"ce":0.45},{"id":"UR1","k":2,"phi":358,"ce":0.43},{"id":"UR1","k":3,"phi":357,"ce":0.38},{"id":"UR1","k":4,"phi":358,"ce":0.33},{"id":"UR1","k":5,"phi":360,"ce":0.31},
{"id":"UR2","k":1,"phi":360,"ce":0.54},{"id":"UR2","k":2,"phi":357,"ce":0.51},{"id":"UR2","k":3,"phi":355,"ce":0.38},{"id":"UR2","k":4,"phi":357,"ce":0.26},{"id":"UR2","k":5,"phi":360,"ce":0.22},
{"id":"UR3","k":1,"phi":360,"ce":0.61},{"id":"UR3","k":2,"phi":355.5,"ce":0.57},{"id":"UR3","k":3,"phi":352.5,"ce":0.38},{"id":"UR3","k":4,"phi":355.5,"ce":0.19},{"id":"UR3","k":5,"phi":360,"ce":0.15},
{"id":"UR4","k":1,"phi":360,"ce":0.67},{"id":"UR4","k":2,"phi":354,"ce":0.63},{"id":"UR4","k":3,"phi":349.5,"ce":0.38},{"id":"UR4","k":4,"phi":354,"ce":0.13},{"id":"UR4","k":5,"phi":360,"ce":0.08},
{"id":"UR5","k":1,"phi":360,"ce":0.74},{"id":"UR5","k":2,"phi":352,"ce":0.69},{"id":"UR5","k":3,"phi":346,"ce":0.38},{"id":"UR5","k":4,"phi":352,"ce":0.06},{"id":"UR5","k":5,"phi":360,"ce":0.0},
{"id":"UR6","k":1,"phi":360,"ce":0.81},{"id":"UR6","k":2,"phi":350,"ce":0.76},{"id":"UR6","k":3,"phi":342,"ce":0.38},{"id":"UR6","k":4,"phi":349,"ce":-0.02},{"id":"UR6","k":5,"phi":360,"ce":-0.09},
{"id":"BL1","k":1,"phi":0,"ce":-0.905},{"id":"BL1","k":2,"phi":6,"ce":-0.91},{"id":"BL1","k":3,"phi":9,"ce":-0.925},{"id":"BL1","k":4,"phi":6,"ce":-0.94},{"id":"BL1","k":5,"phi":0,"ce":-0.945},
{"id":"BL2","k":1,"phi":0,"ce":-0.885},{"id":"BL2","k":2,"phi":10,"ce":-0.89},{"id":"BL2","k":3,"phi":17,"ce":-0.925},{"id":"BL2","k":4,"phi":10,"ce":-0.958},{"id":"BL2","k":5,"phi":0,"ce":-0.962},
{"id":"BL3","k":1,"phi":0,"ce":-0.865},{"id":"BL3","k":2,"phi":15,"ce":-0.872},{"id":"BL3","k":3,"phi":27,"ce":-0.925},{"id":"BL3","k":4,"phi":15,"ce":-0.972},{"id":"BL3","k":5,"phi":0,"ce":-0.977},
{"id":"BL4","k":1,"phi":0,"ce":-0.83},{"id":"BL4","k":2,"phi":20,"ce":-0.84},{"id":"BL4","k":3,"phi":36,"ce":-0.915},{"id":"BL4","k":4,"phi":24,"ce":-0.975},{"id":"BL4","k":5,"phi":0,"ce":-0.99},
{"id":"BL5","k":1,"phi":0,"ce":-0.78},{"id":"BL5","k":2,"phi":25,"ce":-0.79},{"id":"BL5","k":3,"phi":44,"ce":-0.88},{"id":"BL5","k":4,"phi":40,"ce":-0.97},{"id":"BL5","k":5,"phi":30,"ce":-1.0},
{"id":"BL6","k":1,"phi":0,"ce":-0.72},{"id":"BL6","k":2,"phi":30,"ce":-0.735},{"id":"BL6","k":3,"phi":50,"ce":-0.83},{"id":"BL6","k":4,"phi":56,"ce":-0.95},{"id":"BL6","k":5,"phi":57,"ce":-1.0},
{"id":"BL7","k":1,"phi":0,"ce":-0.65},{"id":"BL7","k":2,"phi":20,"ce":-0.655},{"id":"BL7","k":3,"phi":40,"ce":-0.68},{"id":"BL7","k":4,"phi":55,"ce":-0.78},{"id":"BL7","k":5,"phi":62,"ce":-0.9},{"id":"BL7","k":6,"phi":65,"ce":-1.0},
{"id":"BW1","k":1,"phi":0,"ce":-0.5},{"id":"BW1","k":2,"phi":15,"ce":-0.48},{"id":"BW1","k":3,"phi":30,"ce":-0.46},{"id":"BW1","k":4,"phi":42,"ce":-0.48},{"id":"BW1","k":5,"phi":50,"ce":-0.56},{"id":"BW1","k":6,"phi":58,"ce":-0.68},{"id":"BW1","k":7,"phi":63,"ce":-0.8},{"id":"BW1","k":8,"phi":69,"ce":-0.93},
{"id":"BR1","k":1,"phi":360,"ce":-0.905},{"id":"BR1","k":2,"phi":354,"ce":-0.91},{"id":"BR1","k":3,"phi":351,"ce":-0.925},{"id":"BR1","k":4,"phi":354,"ce":-0.94},{"id":"BR1","k":5,"phi":360,"ce":-0.945},
{"id":"BR2","k":1,"phi":360,"ce":-0.885},{"id":"BR2","k":2,"phi":350,"ce":-0.89},{"id":"BR2","k":3,"phi":343,"ce":-0.925},{"id":"BR2","k":4,"phi":350,"ce":-0.958},{"id":"BR2","k":5,"phi":360,"ce":-0.962},
{"id":"BR3","k":1,"phi":360,"ce":-0.865},{"id":"BR3","k":2,"phi":345,"ce":-0.872},{"id":"BR3","k":3,"phi":333,"ce":-0.925},{"id":"BR3","k":4,"phi":345,"ce":-0.972},{"id":"BR3","k":5,"phi":360,"ce":-0.977},
{"id":"BR4","k":1,"phi":360,"ce":-0.83},{"id":"BR4","k":2,"phi":340,"ce":-0.84},{"id":"BR4","k":3,"phi":324,"ce":-0.915},{"id":"BR4","k":4,"phi":336,"ce":-0.975},{"id":"BR4","k":5,"phi":360,"ce":-0.99},
{"id":"BR5","k":1,"phi":360,"ce":-0.78},{"id":"BR5","k":2,"phi":335,"ce":-0.79},{"id":"BR5","k":3,"phi":316,"ce":-0.88},{"id":"BR5","k":4,"phi":320,"ce":-0.97},{"id":"BR5","k":5,"phi":330,"ce":-1.0},
{"id":"BR6","k":1,"phi":360,"ce":-0.72},{"id":"BR6","k":2,"phi":330,"ce":-0.735},{"id":"BR6","k":3,"phi":310,"ce":-0.83},{"id":"BR6","k":4,"phi":304,"ce":-0.95},{"id":"BR6","k":5,"phi":303,"ce":-1.0},
{"id":"BR7","k":1,"phi":360,"ce":-0.65},{"id":"BR7","k":2,"phi":340,"ce":-0.655},{"id":"BR7","k":3,"phi":320,"ce":-0.68},{"id":"BR7","k":4,"phi":305,"ce":-0.78},{"id":"BR7","k":5,"phi":298,"ce":-0.9},{"id":"BR7","k":6,"phi":295,"ce":-1.0},
{"id":"BW2","k":1,"phi":360,"ce":-0.5},{"id":"BW2","k":2,"phi":345,"ce":-0.48},{"id":"BW2","k":3,"phi":330,"ce":-0.46},{"id":"BW2","k":4,"phi":318,"ce":-0.48},{"id":"BW2","k":5,"phi":310,"ce":-0.56},{"id":"BW2","k":6,"phi":302,"ce":-0.68},{"id":"BW2","k":7,"phi":297,"ce":-0.8},{"id":"BW2","k":8,"phi":291,"ce":-0.93}
],
"sepA":[
{"k":1,"phi":0,"ce":0.39},{"k":2,"phi":6,"ce":0.385},{"k":3,"phi":13,"ce":0.36},{"k":4,"phi":20,"ce":0.31},{"k":5,"phi":28,"ce":0.25},{"k":6,"phi":37,"ce":0.13},{"k":7,"phi":46,"ce":-0.02},{"k":8,"phi":57.6,"ce":-0.2},{"k":9,"phi":65,"ce":-0.32},{"k":10,"phi":77,"ce":-0.49},{"k":11,"phi":88,"ce":-0.65},{"k":12,"phi":98,"ce":-0.74},{"k":13,"phi":108,"ce":-0.8},{"k":14,"phi":120,"ce":-0.85},{"k":15,"phi":135,"ce":-0.89},{"k":16,"phi":155,"ce":-0.91},{"k":17,"phi":175,"ce":-0.915},{"k":18,"phi":195,"ce":-0.91},{"k":19,"phi":213,"ce":-0.89},{"k":20,"phi":228,"ce":-0.865},{"k":21,"phi":242,"ce":-0.83},{"k":22,"phi":253,"ce":-0.77},{"k":23,"phi":261,"ce":-0.71},{"k":24,"phi":273,"ce":-0.59},{"k":25,"phi":286,"ce":-0.45},{"k":26,"phi":298,"ce":-0.25},{"k":27,"phi":305,"ce":-0.12},{"k":28,"phi":312,"ce":0.0},{"k":29,"phi":318,"ce":0.08},{"k":30,"phi":325,"ce":0.16},{"k":31,"phi":331,"ce":0.24},{"k":32,"phi":337,"ce":0.31},{"k":33,"phi":343,"ce":0.35},{"k":34,"phi":348,"ce":0.375},{"k":35,"phi":354,"ce":0.385},{"k":36,"phi":360,"ce":0.39}
],
"sepB":[
{"k":1,"phi":180,"ce":0.995},{"k":2,"phi":150,"ce":0.995},{"k":3,"phi":125,"ce":0.99},{"k":4,"phi":112,"ce":0.98},{"k":5,"phi":104,"ce":0.94},{"k":6,"phi":99,"ce":0.87},{"k":7,"phi":96.5,"ce":0.78},{"k":8,"phi":95,"ce":0.66},{"k":9,"phi":96,"ce":0.55},{"k":10,"phi":97,"ce":0.47},{"k":11,"phi":100,"ce":0.38},{"k":12,"phi":102,"ce":0.29},{"k":13,"phi":105,"ce":0.2},{"k":14,"phi":107,"ce":0.12},{"k":15,"phi":111.7,"ce":-0.02},{"k":16,"phi":116,"ce":-0.1},{"k":17,"phi":121.5,"ce":-0.17},{"k":18,"phi":131,"ce":-0.275},{"k":19,"phi":143,"ce":-0.375},{"k":20,"phi":160,"ce":-0.46},{"k":21,"phi":174,"ce":-0.49},{"k":22,"phi":185,"ce":-0.49},{"k":23,"phi":197,"ce":-0.47},{"k":24,"phi":213,"ce":-0.41},{"k":25,"phi":222,"ce":-0.33},{"k":26,"phi":232,"ce":-0.23},{"k":27,"phi":242,"ce":-0.07},{"k":28,"phi":246.6,"ce":0.0},{"k":29,"phi":251,"ce":0.15},{"k":30,"phi":255,"ce":0.3},{"k":31,"phi":259,"ce":0.44},{"k":32,"phi":261,"ce":0.55},{"k":33,"phi":262,"ce":0.66},{"k":34,"phi":262,"ce":0.8},{"k":35,"phi":258,"ce":0.9},{"k":36,"phi":251,"ce":0.96},{"k":37,"phi":240,"ce":0.99},{"k":38,"phi":213,"ce":0.995},{"k":39,"phi":180,"ce":0.995}
],
"notes":[
{"phi":147.7,"ce":-0.18,"t":"2:1","phi2":139,"ce2":-0.172,"phi3":122.5,"ce3":-0.163},
{"phi":91.3,"ce":-0.335,"t":"2:1","phi2":82.5,"ce2":-0.33,"phi3":66,"ce3":-0.318}
]
},
"layer":[
{"data":{"name":"sea"},"mark":{"type":"point","filled":true,"size":3,"color":"#555","opacity":0.85,"clip":true},
"encoding":{
"x":{"field":"phi","type":"quantitative","scale":{"domain":[0,360],"nice":false,"zero":false},
"axis":{"orient":"bottom","values":[0,90,180,270,360],"tickSize":-6,"labelPadding":18,"labelFlush":false,"domain":false,"title":"ϕ (deg)","titleFont":"Liberation Serif","titleFontSize":25,"titleFontWeight":"normal","titlePadding":10}},
"y":{"field":"ce","type":"quantitative","scale":{"domain":[-1,1],"nice":false,"zero":false},
"axis":{"orient":"left","values":[-1,-0.5,0,0.5,1],"labelExpr":"'' + datum.value","tickSize":-6,"labelPadding":8,"labelFlush":false,"domain":false,"title":"cos ϵ","titleFont":"Liberation Sans","titleFontSize":22,"titleFontWeight":"normal","titlePadding":20}}}},
{"data":{"name":"loops"},"mark":{"type":"line","interpolate":"cardinal-closed","stroke":"#444","strokeWidth":0.9,"strokeDash":[1.6,1.2],"clip":true},
"encoding":{"x":{"field":"phi","type":"quantitative","axis":{"orient":"top","values":[0,90,180,270,360],"labels":false,"tickSize":-6,"domain":false,"title":null,"minExtent":0,"maxExtent":0}},
"y":{"field":"ce","type":"quantitative","axis":{"orient":"right","values":[-1,-0.5,0,0.5,1],"labels":false,"tickSize":-6,"domain":false,"title":null,"minExtent":0,"maxExtent":0}},
"detail":{"field":"id"},"order":{"field":"k","type":"quantitative"}}},
{"data":{"name":"arcs"},"mark":{"type":"line","interpolate":"cardinal","stroke":"#333","strokeWidth":0.9,"strokeDash":[1.6,1.2],"clip":true},
"encoding":{"x":{"field":"phi","type":"quantitative","axis":null},"y":{"field":"ce","type":"quantitative","axis":null},
"detail":{"field":"id"},"order":{"field":"k","type":"quantitative"}}},
{"data":{"name":"thick"},"mark":{"type":"line","interpolate":"cardinal-closed","stroke":"black","strokeWidth":1.6,"clip":true},
"encoding":{"x":{"field":"phi","type":"quantitative","axis":null},"y":{"field":"ce","type":"quantitative","axis":null},
"detail":{"field":"id"},"order":{"field":"k","type":"quantitative"}}},
{"data":{"name":"sepA"},"mark":{"type":"line","interpolate":"monotone","stroke":"#2ee6ee","strokeWidth":2.6,"strokeDash":[7,5],"clip":true},
"encoding":{"x":{"field":"phi","type":"quantitative","axis":null},"y":{"field":"ce","type":"quantitative","axis":null},"order":{"field":"k","type":"quantitative"}}},
{"data":{"name":"sepB"},"mark":{"type":"line","interpolate":"cardinal","stroke":"#2ee6ee","strokeWidth":2.6,"strokeDash":[7,5],"clip":true},
"encoding":{"x":{"field":"phi","type":"quantitative","axis":null},"y":{"field":"ce","type":"quantitative","axis":null},"order":{"field":"k","type":"quantitative"}}},
{"data":{"name":"notes"},"mark":{"type":"rule","stroke":"black","strokeWidth":1},
"encoding":{"x":{"field":"phi2","type":"quantitative","axis":null},"y":{"field":"ce2","type":"quantitative","axis":null},"x2":{"field":"phi3"},"y2":{"field":"ce3"}}},
{"data":{"name":"notes"},"mark":{"type":"point","shape":"triangle-left","filled":true,"color":"black","size":28,"opacity":1},
"encoding":{"x":{"field":"phi3","type":"quantitative","axis":null},"y":{"field":"ce3","type":"quantitative","axis":null}}},
{"data":{"name":"notes"},"mark":{"type":"text","font":"Liberation Serif","fontSize":21,"fontWeight":"bold","color":"black","align":"center","baseline":"middle"},
"encoding":{"x":{"field":"phi","type":"quantitative","axis":null},"y":{"field":"ce","type":"quantitative","axis":null},"text":{"field":"t"}}}
],
"resolve":{"axis":{"x":"independent","y":"independent"}}
}
